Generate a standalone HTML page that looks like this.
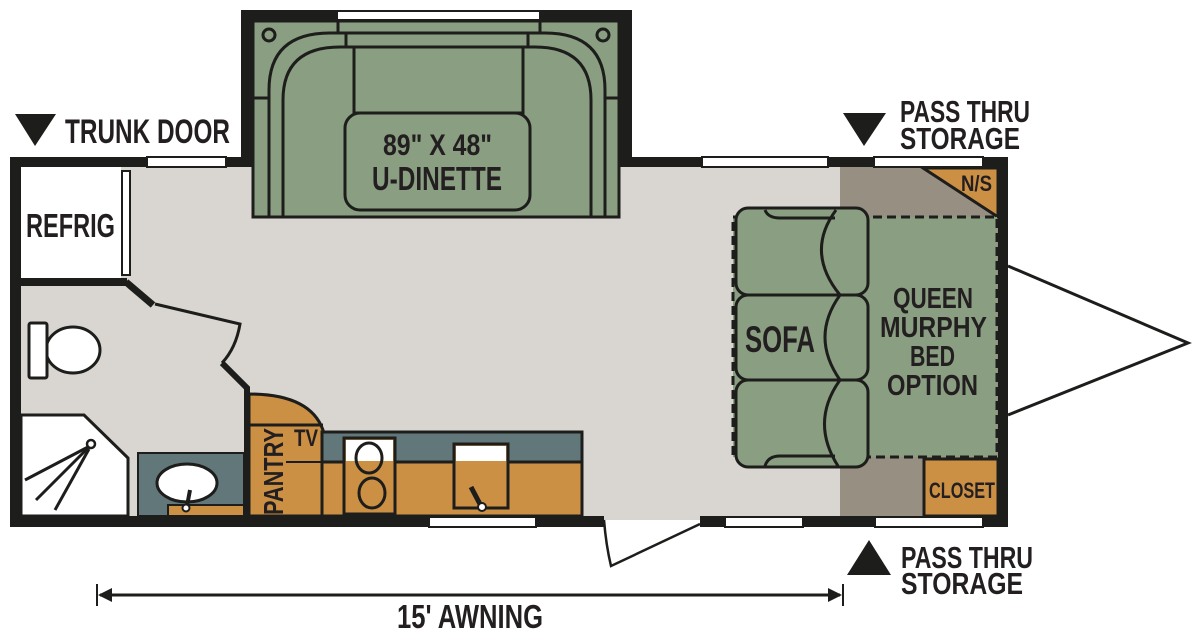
<!DOCTYPE html>
<html><head><meta charset="utf-8"><style>
html,body{margin:0;padding:0;background:#fff;}
svg{display:block;}
text{font-family:"Liberation Sans Narrow","Liberation Sans",sans-serif;font-weight:bold;fill:#231f20;}
</style></head><body>
<svg width="1200" height="638" viewBox="0 0 1200 638" xmlns="http://www.w3.org/2000/svg">
<rect x="15" y="162" width="988" height="358" fill="#d9d6d1"/>
<rect x="840" y="165" width="160" height="352" fill="#968f82"/>
<rect x="241" y="10" width="391" height="157" fill="#1d1d1b"/>
<rect x="253" y="21" width="366" height="196" fill="#8a9e82" stroke="#1d1d1b" stroke-width="3"/>
<g fill="none" stroke="#1d1d1b" stroke-width="3">
<path d="M269 217 V90 Q269 33 330 33 H346"/>
<path d="M283 217 V100 Q283 47 340 47 H354"/>
<path d="M605 217 V90 Q605 33 545 33 H530"/>
<path d="M591 217 V100 Q591 47 535 47 H523"/>
<line x1="253" y1="98" x2="269" y2="98"/><line x1="605" y1="98" x2="619" y2="98"/>
<rect x="338" y="20" width="202" height="13"/>
<rect x="346" y="33" width="182" height="14"/>
<rect x="354" y="47" width="169" height="66"/>
<rect x="345" y="113" width="185" height="97" rx="15" fill="#8a9e82"/>
<circle cx="269" cy="35" r="6"/><circle cx="603" cy="35" r="6"/>
</g>
<rect x="337" y="11" width="203" height="9" fill="#fff" stroke="#1d1d1b" stroke-width="2"/>
<text x="383" y="155" font-size="30" textLength="109" lengthAdjust="spacingAndGlyphs">89" X 48"</text>
<text x="372" y="190" font-size="33" textLength="130" lengthAdjust="spacingAndGlyphs">U-DINETTE</text>
<rect x="10" y="157" width="233" height="10" fill="#1d1d1b"/>
<rect x="630" y="157" width="378" height="10" fill="#1d1d1b"/>
<rect x="10" y="157" width="11" height="370" fill="#1d1d1b"/>
<rect x="998" y="157" width="10" height="370" fill="#1d1d1b"/>
<rect x="10" y="516" width="594" height="11" fill="#1d1d1b"/>
<rect x="700" y="516" width="308" height="11" fill="#1d1d1b"/>
<g fill="#fff" stroke="#1d1d1b" stroke-width="2">
<rect x="147" y="157" width="79" height="10"/>
<rect x="702" y="157" width="126" height="10"/>
<rect x="874" y="157" width="109" height="10"/>
<rect x="429" y="517" width="107" height="10"/>
<rect x="725" y="517" width="78" height="10"/>
<rect x="875" y="517" width="108" height="10"/>
</g>
<path d="M604 520 Q606 545 611 566 L700 524" fill="none" stroke="#1d1d1b" stroke-width="2.5"/>
<rect x="21" y="167" width="100" height="111" fill="#fff"/>
<rect x="122" y="171" width="8" height="104" fill="#fff" stroke="#1d1d1b" stroke-width="2"/>
<text x="26" y="237" font-size="33" textLength="89" lengthAdjust="spacingAndGlyphs">REFRIG</text>
<rect x="21" y="278" width="106" height="8" fill="#1d1d1b"/>
<path d="M126 282 L153 305" stroke="#1d1d1b" stroke-width="7" fill="none"/>
<path d="M155 304 L240 324 Q236 348 222 363" stroke="#1d1d1b" stroke-width="3" fill="none"/>
<path d="M222 363 L247 388 V516" stroke="#1d1d1b" stroke-width="6" fill="none"/>
<ellipse cx="73" cy="350" rx="27" ry="23" fill="#fff" stroke="#1d1d1b" stroke-width="3"/>
<rect x="29" y="323" width="18" height="55" rx="2" fill="#fff" stroke="#1d1d1b" stroke-width="3"/>
<path d="M21 415 H84 L128 458 V516 H21 Z" fill="#fff" stroke="#1d1d1b" stroke-width="3"/>
<circle cx="91" cy="444" r="4" fill="#fff" stroke="#1d1d1b" stroke-width="2.5"/>
<g stroke="#1d1d1b" stroke-width="3"><line x1="88" y1="447" x2="25" y2="480"/><line x1="88" y1="448" x2="36" y2="500"/><line x1="89" y1="449" x2="55" y2="510"/></g>
<rect x="138" y="453" width="106" height="63" fill="#62777a" stroke="#1d1d1b" stroke-width="2"/>
<rect x="168" y="505" width="76" height="11" fill="#cc9045" stroke="#1d1d1b" stroke-width="2"/>
<ellipse cx="187" cy="483" rx="30" ry="19" fill="#fff" stroke="#1d1d1b" stroke-width="3"/>
<line x1="190" y1="490" x2="187" y2="506" stroke="#1d1d1b" stroke-width="4"/>
<circle cx="186" cy="508" r="3.5" fill="#fff" stroke="#1d1d1b" stroke-width="2"/>
<path d="M249 394 Q310 394 323 430 V516 H249 Z" fill="#cc9045" stroke="#1d1d1b" stroke-width="3"/>
<line x1="249" y1="425" x2="323" y2="425" stroke="#1d1d1b" stroke-width="3"/>
<text transform="translate(283 515) rotate(-90)" font-size="28" textLength="87" lengthAdjust="spacingAndGlyphs">PANTRY</text>
<text x="294" y="446" font-size="24" textLength="24" lengthAdjust="spacingAndGlyphs">TV</text>
<rect x="322" y="432" width="260" height="84" fill="#cc9045" stroke="#1d1d1b" stroke-width="3"/>
<rect x="322" y="432" width="260" height="30" fill="#62777a" stroke="#1d1d1b" stroke-width="3"/>
<line x1="286" y1="462" x2="322" y2="462" stroke="#1d1d1b" stroke-width="2"/>
<rect x="344" y="438" width="51" height="76" fill="#cc9045" stroke="#1d1d1b" stroke-width="3"/>
<rect x="346" y="440" width="47" height="21" fill="#fff"/>
<ellipse cx="369" cy="458" rx="13" ry="15" fill="none" stroke="#1d1d1b" stroke-width="3"/>
<ellipse cx="372" cy="493" rx="13" ry="15" fill="none" stroke="#1d1d1b" stroke-width="3"/>
<rect x="454" y="444" width="54" height="64" fill="#cc9045" stroke="#1d1d1b" stroke-width="3"/>
<rect x="456" y="446" width="50" height="15" fill="#fff"/>
<line x1="471" y1="487" x2="481" y2="506" stroke="#1d1d1b" stroke-width="5"/>
<circle cx="482" cy="507" r="4" fill="#fff" stroke="#1d1d1b" stroke-width="2"/>
<path d="M923 168 H998 V217 Z" fill="#cc9045" stroke="#1d1d1b" stroke-width="3"/>
<text x="961" y="191" font-size="22" textLength="31" lengthAdjust="spacingAndGlyphs">N/S</text>
<rect x="733" y="217" width="264" height="240" fill="#8a9e82" stroke="#1d1d1b" stroke-width="3" stroke-dasharray="9 5"/>
<g fill="#8a9e82" stroke="#1d1d1b" stroke-width="3">
<rect x="736" y="208" width="132" height="87" rx="12"/>
<rect x="736" y="295" width="132" height="85" rx="12"/>
<rect x="736" y="380" width="132" height="87" rx="12"/>
</g>
<g fill="none" stroke="#1d1d1b" stroke-width="3">
<path d="M836 210 Q805 252 840 295"/>
<path d="M840 295 Q810 337 840 380"/>
<path d="M840 380 Q810 422 838 466"/>
<path d="M765 210 Q768 218 780 218 H835"/>
<path d="M765 466 Q768 456 780 456 H835"/>
</g>
<text x="745" y="352" font-size="37" textLength="70" lengthAdjust="spacingAndGlyphs">SOFA</text>
<g font-size="29">
<text x="893" y="308" textLength="80" lengthAdjust="spacingAndGlyphs">QUEEN</text>
<text x="880" y="337" textLength="107" lengthAdjust="spacingAndGlyphs">MURPHY</text>
<text x="910" y="366" textLength="45" lengthAdjust="spacingAndGlyphs">BED</text>
<text x="887" y="395" textLength="91" lengthAdjust="spacingAndGlyphs">OPTION</text>
</g>
<rect x="924" y="459" width="74" height="57" fill="#cc9045" stroke="#1d1d1b" stroke-width="3"/>
<text x="929" y="498" font-size="22" textLength="66" lengthAdjust="spacingAndGlyphs">CLOSET</text>
<path d="M1008 266 L1188 343 L1008 415" fill="none" stroke="#1d1d1b" stroke-width="3"/>
<path d="M15 114 H56 L35 146 Z" fill="#1d1d1b"/>
<text x="65" y="143" font-size="34" textLength="165" lengthAdjust="spacingAndGlyphs">TRUNK DOOR</text>
<path d="M843 113 H886 L864 146 Z" fill="#1d1d1b"/>
<text x="900" y="122" font-size="31" textLength="130" lengthAdjust="spacingAndGlyphs">PASS THRU</text>
<text x="900" y="149" font-size="31" textLength="120" lengthAdjust="spacingAndGlyphs">STORAGE</text>
<path d="M847 575 H891 L869 540 Z" fill="#1d1d1b"/>
<text x="901" y="568" font-size="31" textLength="132" lengthAdjust="spacingAndGlyphs">PASS THRU</text>
<text x="901" y="594" font-size="31" textLength="122" lengthAdjust="spacingAndGlyphs">STORAGE</text>
<line x1="100" y1="595" x2="840" y2="595" stroke="#1d1d1b" stroke-width="3"/>
<line x1="97" y1="584" x2="97" y2="606" stroke="#1d1d1b" stroke-width="2"/>
<line x1="843" y1="584" x2="843" y2="606" stroke="#1d1d1b" stroke-width="2"/>
<path d="M98 595 L112 588 V602 Z" fill="#1d1d1b"/>
<path d="M842 595 L828 588 V602 Z" fill="#1d1d1b"/>
<text x="397" y="628" font-size="33" textLength="146" lengthAdjust="spacingAndGlyphs">15' AWNING</text>
</svg>
</body></html>
